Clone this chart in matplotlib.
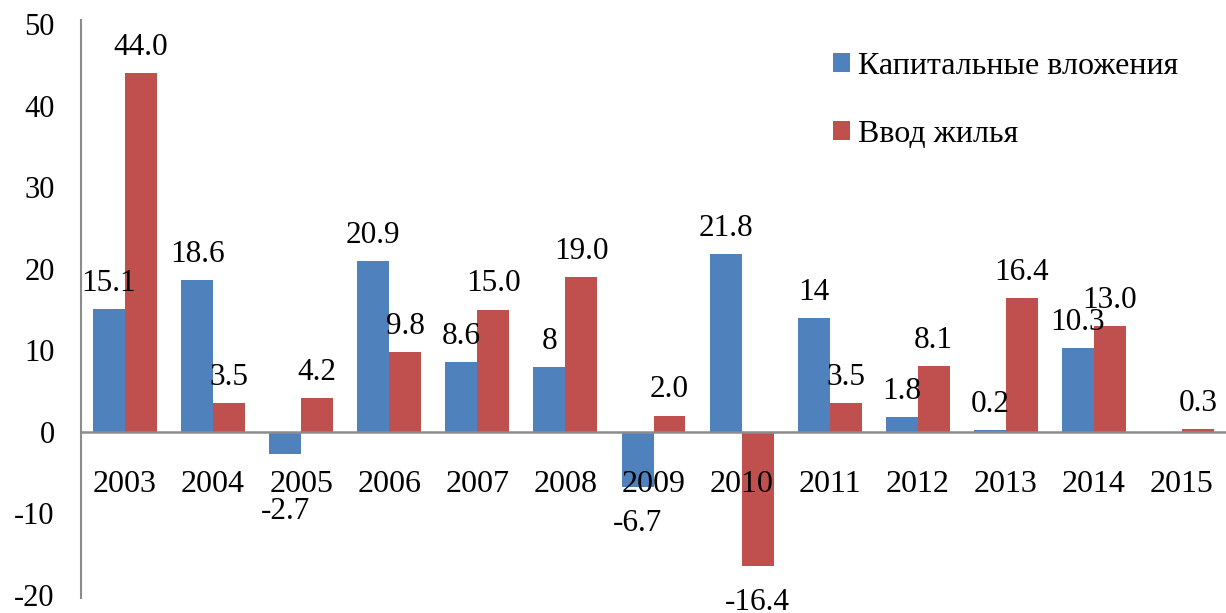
import numpy as np
import matplotlib
matplotlib.use("Agg")
import matplotlib.pyplot as plt

plt.rcParams['font.family'] = ['Liberation Serif', 'DejaVu Serif']

years = ['2003', '2004', '2005', '2006', '2007', '2008', '2009',
         '2010', '2011', '2012', '2013', '2014', '2015']
capital_investment = [15.1, 18.6, -2.7, 20.9, 8.6, 8, -6.7, 21.8, 14, 1.8, 0.2, 10.3, np.nan]
housing_input = [44.0, 3.5, 4.2, 9.8, 15.0, 19.0, 2.0, -16.4, 3.5, 8.1, 16.4, 13.0, 0.3]
series_names = ['Капитальные вложения', 'Ввод жилья']
y_ticks = [-20, -10, 0, 10, 20, 30, 40, 50]

BLUE = '#4F81BD'
RED = '#C0504D'
GRAY = '#8C8C8C'
FS_TICK = 22
FS_YEAR = 23
FS_LABEL = 22.5
FS_LEG = 23

fig = plt.figure(figsize=(12.26, 6.13), dpi=100)
ax = fig.add_axes([81 / 1226, 18 / 613, 1 - 81 / 1226, (595 - 24) / 613])

x = np.arange(len(years))
w = 0.363
b1 = ax.bar(x - w / 2, capital_investment, w, color=BLUE, label=series_names[0])
b2 = ax.bar(x + w / 2, housing_input, w, color=RED, label=series_names[1])

ax.set_xlim(-0.5, len(years) - 0.5)
ax.set_ylim(-20, 50)
ax.set_yticks(y_ticks)
ax.set_yticklabels([str(t) for t in y_ticks], fontsize=FS_TICK)
ax.tick_params(axis='y', length=0, pad=19)
ax.set_xticks([])

for s in ['top', 'right', 'bottom']:
    ax.spines[s].set_visible(False)
ax.spines['left'].set_color(GRAY)
ax.spines['left'].set_linewidth(1.5)
ax.spines['left'].set_bounds(-20.4, 50.5)
ax.axhline(0, color=GRAY, lw=1.8, zorder=3)

# year labels sit just under the zero line
for xi, yr in zip(x, years):
    ax.annotate(yr, (xi, 0), xytext=(0, -27.5), textcoords='offset points',
                ha='center', va='top', fontsize=FS_YEAR)


def fmt(v):
    return f'{v:g}'


def label_bars(xs, vals, formatter, special=None):
    special = special or {}
    for xi, v in zip(xs, vals):
        if np.isnan(v):
            continue
        txt = formatter(v)
        if v >= 0:
            ax.annotate(txt, (xi, v), xytext=(0, 13), textcoords='offset points',
                        ha='center', va='baseline', fontsize=FS_LABEL,
                        annotation_clip=False)
        else:
            off = special.get(txt, -16)
            ax.annotate(txt, (xi, v), xytext=(0, off), textcoords='offset points',
                        ha='center', va='top', fontsize=FS_LABEL,
                        annotation_clip=False)


label_bars(x - w / 2, capital_investment, fmt, special={'-2.7': -31})
label_bars(x + w / 2, housing_input, lambda v: f'{v:.1f}')

leg = ax.legend(loc='upper left', bbox_to_anchor=(833 / 1226, 1 - 52 / 613),
                bbox_transform=fig.transFigure, frameon=False, fontsize=FS_LEG,
                handlelength=0.53, handleheight=0.53, handletextpad=0.25,
                labelspacing=1.22, borderpad=0, borderaxespad=0)

fig.savefig('out.png', dpi=100)
